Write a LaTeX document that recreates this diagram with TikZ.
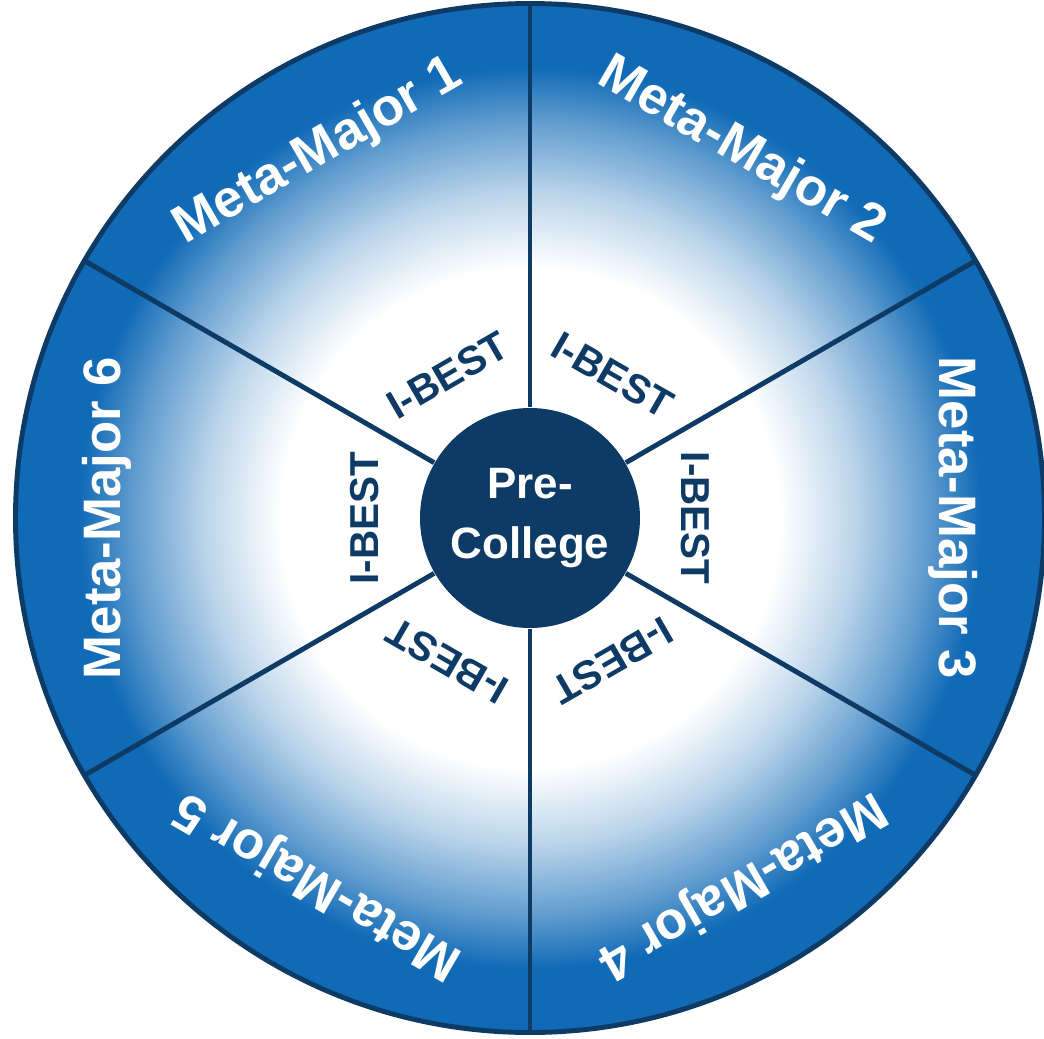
\documentclass[tikz,border=0pt]{standalone}
\usepackage{fontspec}
\setmainfont{Liberation Sans}
\definecolor{mmblue}{RGB}{16,106,182}
\definecolor{mmnavy}{RGB}{14,58,102}
% radii in bp, the wheel radius is 5.145cm = 145.8bp
\pgfdeclareradialshading{wheelshade}{\pgfpoint{0bp}{0bp}}{color(0bp)=(white);color(71bp)=(white);color(92bp)=(mmblue!28);color(112bp)=(mmblue!65);color(128bp)=(mmblue);color(146bp)=(mmblue)}
\tikzset{
  major/.style={text=white,font=\bfseries\fontsize{15}{18}\selectfont},
  ibest/.style={text=mmnavy,font=\bfseries\fontsize{11.5}{14}\selectfont},
  divider/.style={draw=mmnavy,line width=1.4pt}
}
\begin{document}
\begin{tikzpicture}
\pgfmathsetmacro{\R}{5.145}
\useasboundingbox (-5.30,-5.20) rectangle (5.14,5.18);
\begin{scope}
\clip (0,0) circle (\R);
\node[inner sep=0pt] (wheel) at (0,0) {\pgfuseshading{wheelshade}};
\end{scope}
\node[circle,fill=mmnavy,minimum size=2.2cm,inner sep=0pt,text=white,align=center,font=\bfseries\fontsize{12.5}{17}\selectfont] (pre) at (0,0) {Pre-\\College};
\foreach \a in {30,90,...,330} \draw[divider] (pre.\a)--(\a:\R);
\draw[divider] (0,0) circle (\R);
\foreach \n/\a in {1/120,2/60,3/0,4/-60,5/-120,6/180}{
  \node[major,rotate=\a-90] (mm\n) at (\a:4.23) {Meta-Major \n};
  \node[ibest,rotate=\a-90] (ib\n) at (\a:1.65) {I-BEST};
}
\end{tikzpicture}
\end{document}
